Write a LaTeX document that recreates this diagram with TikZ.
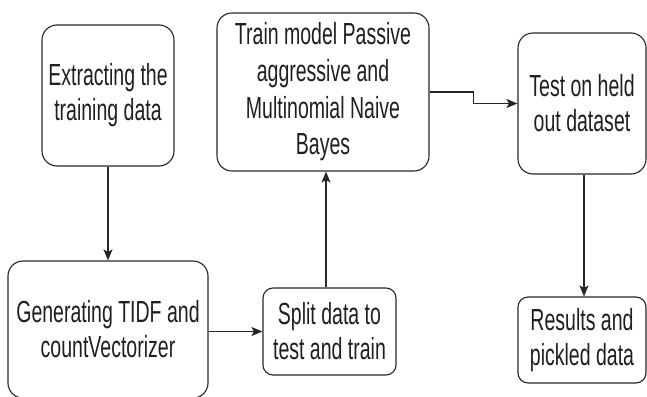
\documentclass[tikz,border=0pt]{standalone}
\usepackage{fontspec}
\setmainfont[FakeStretch=0.64]{Liberation Sans}
\usetikzlibrary{arrows.meta,calc}
\begin{document}
\begin{tikzpicture}[x=1pt,y=-1pt,
  box/.style={draw=black!85, line width=1.1pt, rounded corners=15pt, align=center,
    inner sep=0pt, text=black!88,
    font=\fontsize{30.5pt}{35pt}\selectfont},
  smallbox/.style={box, rounded corners=10pt},
  arr/.style={draw=black!85, line width=1.1pt, -{Stealth[length=11pt,width=9pt,inset=2.5pt]}}]
  \useasboundingbox (0,0) rectangle (647,396);
  \clip (0,0) rectangle (647,396);

  % process steps
  \node[box, minimum width=132pt, minimum height=141pt] (ext) at (108,95.5)
    {Extracting the\\training data};
  \node[box, minimum width=200pt, minimum height=137pt] (gen) at (108,329.5)
    {Generating TIDF and\\countVectorizer};
  \node[smallbox, minimum width=133pt, minimum height=87pt] (split) at (329.5,331.5)
    {Split data to\\test and train};
  \node[box, minimum width=212pt, minimum height=158pt,
    font=\fontsize{30.5pt}{36.7pt}\selectfont] (train) at (323,92)
    {Train model Passive\\aggressive and\\Multinomial Naive\\Bayes};
  \node[box, minimum width=128pt, minimum height=141pt] (test) at (582,103.5)
    {Test on held\\out dataset};
  \node[smallbox, minimum width=128pt, minimum height=86pt] (res) at (582,340)
    {Results and\\pickled data};

  % flow
  \draw[arr] (ext.south) -- (gen.north);
  \draw[arr] (split.west -| gen.east) -- (split.west);
  \draw[arr] ([xshift=-3.5pt]split.north) -- ([xshift=-3.5pt]split.north |- train.south);
  \draw[arr] (train.east) -- ++(44,0) |- (test.west);
  \draw[arr] ([xshift=2pt]test.south) -- ([xshift=2pt]test.south |- res.north);
\end{tikzpicture}
\end{document}
